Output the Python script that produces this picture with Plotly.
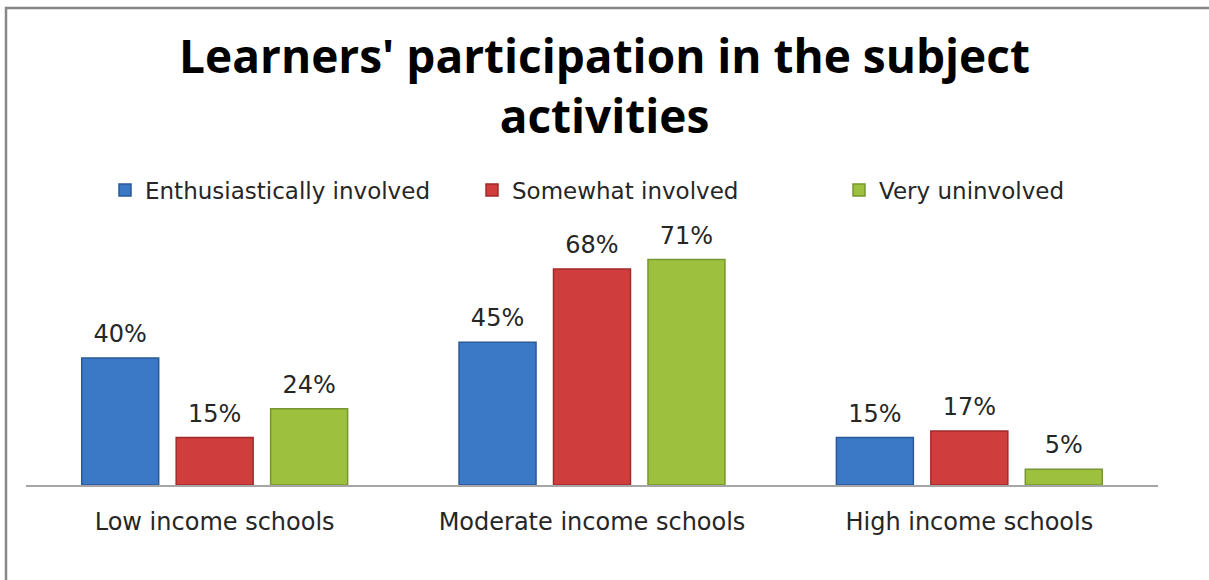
import plotly.graph_objects as go

categories = ["Low income schools", "Moderate income schools", "High income schools"]
series_names = ["Enthusiastically involved", "Somewhat involved", "Very uninvolved"]
enthusiastic = [40, 45, 15]
somewhat = [15, 68, 17]
uninvolved = [24, 71, 5]

series_values = [enthusiastic, somewhat, uninvolved]
fill_colors = ["#3B78C6", "#CF3E3D", "#9DC03F"]
edge_colors = ["#2A5A98", "#9E2B2A", "#789630"]

W, H = 1209, 580
ML, MR, MT, MB = 26, 51, 231, 95
PW = W - ML - MR
PH = H - MT - MB

fig = go.Figure()
for i, (name, vals) in enumerate(zip(series_names, series_values)):
    fig.add_trace(go.Bar(
        name=name, x=categories, y=vals, offsetgroup=str(i),
        marker=dict(color=fill_colors[i], line=dict(color=edge_colors[i], width=1.5)),
        hoverinfo="skip",
    ))
for i, vals in enumerate(series_values):
    fig.add_trace(go.Scatter(
        x=categories, y=vals, offsetgroup=str(i), mode="markers+text",
        text=[f"{v}%" for v in vals], textposition="top center",
        marker=dict(size=14, opacity=0),
        textfont=dict(family="DejaVu Sans", size=24, color="#262626"),
        showlegend=False, hoverinfo="skip", cliponaxis=False,
    ))

def px_to_paper_x(px):
    return (px - ML) / PW

def px_to_paper_y(py):
    return (H - MB - py) / PH

fig.update_layout(
    width=W, height=H,
    margin=dict(l=ML, r=MR, t=MT, b=MB, autoexpand=False),
    paper_bgcolor="white", plot_bgcolor="white",
    barmode="group", bargap=0.249, bargroupgap=0.185,
    scattermode="group",
    title=dict(
        text="Learners' participation in the subject<br>activities",
        font=dict(family="Open Sans", size=46, color="black", weight="bold"),
        x=0.5, xanchor="center", xref="container",
        y=1 - 73 / H, yanchor="top", yref="container",
    ),
    legend=dict(
        orientation="h", x=105 / W, xref="container", xanchor="left",
        y=px_to_paper_y(190), yanchor="middle",
        font=dict(family="DejaVu Sans", size=23, color="#262626"),
        itemwidth=30, traceorder="normal", bgcolor="rgba(0,0,0,0)",
        entrywidth=322, entrywidthmode="pixels",
    ),
    xaxis=dict(
        range=[-0.5, 2.5], showgrid=False, showline=True, linecolor="#A6A6A6",
        linewidth=1.5, ticks="", zeroline=False, ticklabelstandoff=14,
        tickfont=dict(family="DejaVu Sans", size=24, color="#262626"),
        fixedrange=True,
    ),
    yaxis=dict(range=[0, 80], visible=False, fixedrange=True),
    shapes=[dict(
        type="rect", xref="paper", yref="paper",
        x0=px_to_paper_x(6), x1=px_to_paper_x(W + 10),
        y0=px_to_paper_y(H + 10), y1=px_to_paper_y(8),
        line=dict(color="#878787", width=2.5), fillcolor="rgba(0,0,0,0)", layer="below",
    )],
    showlegend=True,
)

fig.write_html("out.html")
